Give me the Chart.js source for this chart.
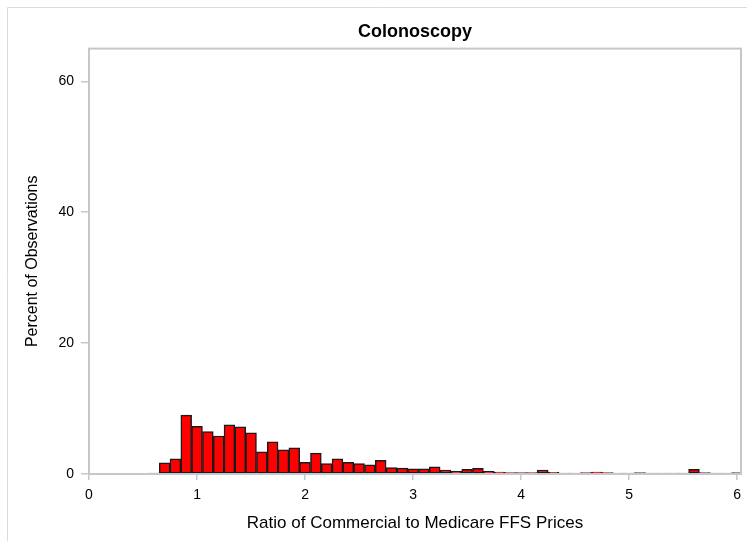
<!DOCTYPE html>
<html>
<head>
<meta charset="utf-8">
<script src="https://cdn.jsdelivr.net/npm/chart.js@4.4.1/dist/chart.umd.min.js"></script>
<style>
  html, body { margin: 0; padding: 0; background: #fff; }
  #wrap { width: 747px; height: 541px; position: relative; }
</style>
</head>
<body>
<div id="wrap"><canvas id="histChart"></canvas></div>
<script>
// bin midpoints (width 0.1) and percent of observations
const binMids = [0.6, 0.7, 0.8, 0.9, 1.0, 1.1, 1.2, 1.3, 1.4, 1.5, 1.6, 1.7, 1.8, 1.9,
  2.0, 2.1, 2.2, 2.3, 2.4, 2.5, 2.6, 2.7, 2.8, 2.9, 3.0, 3.1, 3.2, 3.3, 3.4, 3.5,
  3.6, 3.7, 3.8, 3.9, 4.0, 4.1, 4.2, 4.3, 4.4, 4.5, 4.6, 4.7, 4.8, 4.9, 5.0, 5.1,
  5.2, 5.3, 5.4, 5.5, 5.6, 5.7, 5.8, 5.9, 6.0];
const percents = [0.15, 1.7, 2.3, 9.0, 7.3, 6.5, 5.8, 7.5, 7.2, 6.3, 3.4, 4.9, 3.7, 4.0,
  1.8, 3.2, 1.6, 2.3, 1.8, 1.6, 1.4, 2.1, 1.0, 0.9, 0.8, 0.8, 1.1, 0.6, 0.4, 0.7,
  0.85, 0.4, 0.3, 0.2, 0.2, 0.2, 0.6, 0.25, 0.15, 0.15, 0.2, 0.3, 0.2, 0.15, 0.15, 0.2,
  0.15, 0.15, 0.15, 0.15, 0.7, 0.2, 0.15, 0.15, 0.2];
const xTicks = [0, 1, 2, 3, 4, 5, 6];
const yTicks = [0, 20, 40, 60];

const frameColor = '#c4c8cc';

// plot frame + outer picture border
const framePlugin = {
  id: 'frame',
  beforeDraw(chart) {
    const c = chart.ctx;
    c.save();
    c.strokeStyle = '#dcdcdc';
    c.lineWidth = 1;
    c.beginPath();
    c.moveTo(7.5, 541); c.lineTo(7.5, 7.5); c.lineTo(747, 7.5);
    c.stroke();
    c.restore();
  },
  afterDatasetsDraw(chart) {
    const a = chart.chartArea;
    const c = chart.ctx;
    c.save();
    c.strokeStyle = frameColor;
    c.lineWidth = 2;
    c.strokeRect(a.left, a.top, a.right - a.left, a.bottom - a.top);
    c.restore();
  }
};

const points = binMids.map((m, i) => ({ x: m, y: percents[i] }));

new Chart(document.getElementById('histChart'), {
  type: 'bar',
  data: {
    datasets: [{
      label: 'Percent',
      data: points,
      backgroundColor: '#ff0000',
      borderColor: '#1a1a1a',
      borderWidth: 1.5,
      borderSkipped: false,
      barPercentage: 1,
      categoryPercentage: 1
    }]
  },
  plugins: [framePlugin],
  options: {
    responsive: true,
    maintainAspectRatio: false,
    animation: false,
    layout: { padding: { left: 0, right: 6, top: 0, bottom: 0 } },
    plugins: {
      legend: { display: false },
      tooltip: { enabled: false },
      title: {
        display: true,
        fullSize: false,
        text: 'Colonoscopy',
        color: '#000',
        font: { family: 'Liberation Sans, Arial', size: 18, weight: 'bold' },
        padding: { top: 21, bottom: 6 }
      }
    },
    scales: {
      x: {
        type: 'linear',
        min: 0,
        max: 6.035,
        offset: false,
        afterBuildTicks(axis) { axis.ticks = xTicks.map(v => ({ value: v })); },
        afterFit(axis) { axis.height = 67; axis.paddingLeft = 0; axis.paddingRight = 0; },
        grid: { offset: false, drawOnChartArea: false, tickLength: 6, color: frameColor, lineWidth: 1.5 },
        border: { display: true, color: frameColor, width: 2 },
        ticks: {
          color: '#000',
          padding: 7,
          maxRotation: 0,
          font: { family: 'Liberation Sans, Arial', size: 14 }
        },
        title: {
          display: true,
          text: 'Ratio of Commercial to Medicare FFS Prices',
          color: '#000',
          padding: { top: 0, bottom: 7 },
          font: { family: 'Liberation Sans, Arial', size: 17 }
        }
      },
      y: {
        min: 0,
        max: 65,
        afterBuildTicks(axis) { axis.ticks = yTicks.map(v => ({ value: v })); },
        afterFit(axis) { axis.width = 89; },
        grid: { drawOnChartArea: false, tickLength: 8, color: frameColor, lineWidth: 1.5 },
        border: { display: true, color: frameColor, width: 2 },
        ticks: {
          color: '#000',
          padding: 7,
          font: { family: 'Liberation Sans, Arial', size: 14 }
        },
        title: {
          display: true,
          text: 'Percent of Observations',
          color: '#000',
          padding: { top: 23, bottom: 0 },
          font: { family: 'Liberation Sans, Arial', size: 16 }
        }
      }
    }
  }
});
</script>
</body>
</html>
